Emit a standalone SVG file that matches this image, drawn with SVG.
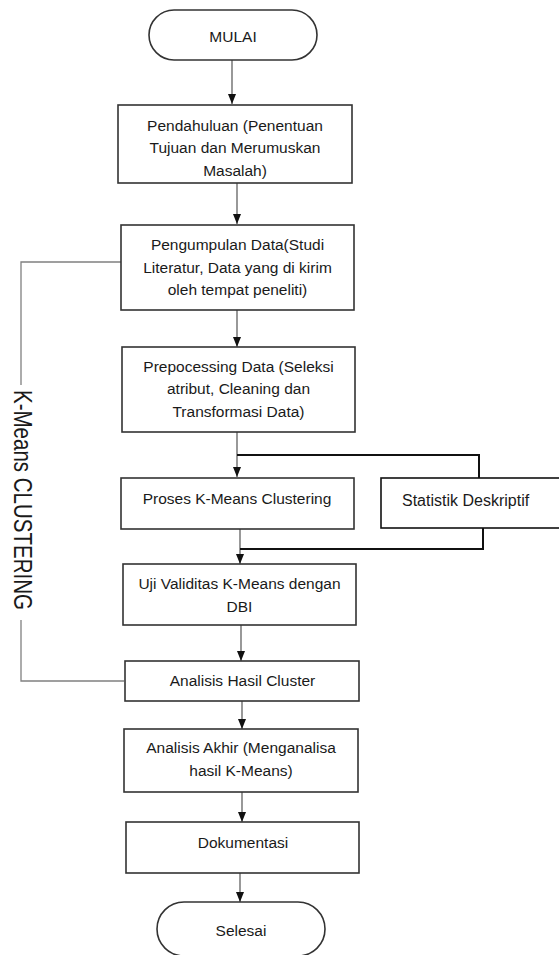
<svg xmlns="http://www.w3.org/2000/svg" width="559" height="955" viewBox="0 0 559 955">
<defs>
<marker id="ah" markerUnits="userSpaceOnUse" markerWidth="10" markerHeight="10" viewBox="0 0 10 10" refX="10" refY="5" orient="auto">
<path d="M0,1 L10,5 L0,9 Z" fill="#111"/>
</marker>
<style>
.box{fill:#fff;stroke:#333;stroke-width:1.6}
.t{font-family:"Liberation Sans",Arial,sans-serif;font-size:15.5px;fill:#1a1a1a;text-anchor:middle}
.c{fill:none;stroke:#444;stroke-width:1.1}
.s{fill:none;stroke:#111;stroke-width:2}
.b{fill:none;stroke:#808080;stroke-width:1.3}
</style>
</defs>
<rect width="559" height="955" fill="#fff"/>
<g id="connectors">
<line class="c" x1="232" y1="60" x2="232" y2="104" marker-end="url(#ah)"/>
<line class="c" x1="237" y1="183" x2="237" y2="224" marker-end="url(#ah)"/>
<line class="c" x1="237" y1="310" x2="237" y2="347" marker-end="url(#ah)"/>
<line class="c" x1="237" y1="432" x2="237" y2="477" marker-end="url(#ah)"/>
<polyline class="s" points="237,455 479,455 479,478"/>
<line class="c" x1="240" y1="529" x2="240" y2="564" marker-end="url(#ah)"/>
<polyline class="s" points="240,549 483,549 483,528"/>
<line class="c" x1="241" y1="625" x2="241" y2="661" marker-end="url(#ah)"/>
<line class="c" x1="242" y1="701" x2="242" y2="729" marker-end="url(#ah)"/>
<line class="c" x1="242" y1="792" x2="242" y2="822" marker-end="url(#ah)"/>
<line class="c" x1="240" y1="873" x2="240" y2="902" marker-end="url(#ah)"/>
<polyline class="b" points="121,262 21,262 21,385"/>
<polyline class="b" points="21,620 21,681 124,681"/>
</g>
<g id="kmeans-label">
<text transform="translate(14,500) rotate(90)" x="0" y="0" text-anchor="middle" font-family="'Liberation Sans',Arial,sans-serif" font-size="25" fill="#1a1a1a" textLength="220" lengthAdjust="spacingAndGlyphs">K-Means CLUSTERING</text>
</g>
<g id="mulai">
<rect x="149" y="10" width="168" height="50" rx="25" class="box"/>
<text class="t" x="233" y="41.5">MULAI</text>
</g>
<g id="pendahuluan">
<rect x="118" y="105" width="234" height="78" class="box"/>
<text class="t" x="235" y="130.5">Pendahuluan (Penentuan</text>
<text class="t" x="235" y="153">Tujuan dan Merumuskan</text>
<text class="t" x="235" y="175.5">Masalah)</text>
</g>
<g id="pengumpulan">
<rect x="121" y="225" width="233" height="85" class="box"/>
<text class="t" x="237.5" y="249.5">Pengumpulan Data(Studi</text>
<text class="t" x="237.5" y="272.5">Literatur, Data yang di kirim</text>
<text class="t" x="237.5" y="294.5">oleh tempat peneliti)</text>
</g>
<g id="prepocessing">
<rect x="122" y="347" width="233" height="85" class="box"/>
<text class="t" x="238.5" y="371.5">Prepocessing Data (Seleksi</text>
<text class="t" x="238.5" y="393.5">atribut, Cleaning dan</text>
<text class="t" x="238.5" y="416.5">Transformasi Data)</text>
</g>
<g id="proses">
<rect x="121" y="478" width="233" height="51" class="box"/>
<text class="t" x="237" y="503.5">Proses K-Means Clustering</text>
</g>
<g id="statistik">
<rect x="381" y="478" width="180" height="50" fill="#fff" stroke="#111" stroke-width="1.6"/>
<text x="402" y="505.5" font-family="'Liberation Sans',Arial,sans-serif" font-size="16" fill="#1a1a1a">Statistik Deskriptif</text>
</g>
<g id="uji">
<rect x="123" y="564" width="233" height="61" class="box"/>
<text class="t" x="239.5" y="588.5">Uji Validitas K-Means dengan</text>
<text class="t" x="239.5" y="611.5">DBI</text>
</g>
<g id="analisis-hasil">
<rect x="125" y="661" width="234" height="40" class="box"/>
<text class="t" x="242.5" y="685.5">Analisis Hasil Cluster</text>
</g>
<g id="analisis-akhir">
<rect x="124" y="729" width="234" height="63" class="box"/>
<text class="t" x="241" y="752.5">Analisis Akhir (Menganalisa</text>
<text class="t" x="241" y="775.5">hasil K-Means)</text>
</g>
<g id="dokumentasi">
<rect x="126" y="822" width="233" height="51" class="box"/>
<text class="t" x="243" y="847.5">Dokumentasi</text>
</g>
<g id="selesai">
<rect x="157" y="902" width="168" height="54" rx="27" class="box"/>
<text class="t" x="241" y="935.5">Selesai</text>
</g>
</svg>
